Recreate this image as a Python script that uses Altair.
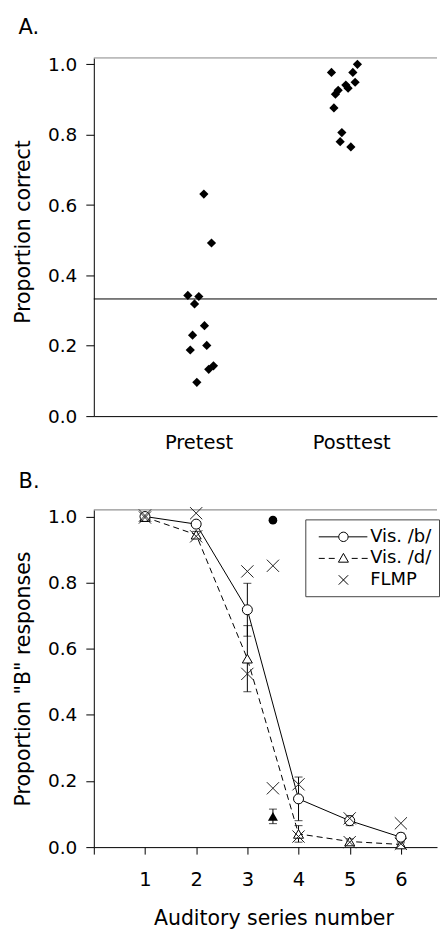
import math
import altair as alt
import pandas as pd

FONT = "DejaVu Sans"

# ---------------- Panel A data ----------------
test_names = ["Pretest", "Posttest"]
pre_values = [0.631, 0.492, 0.343, 0.340, 0.319, 0.257, 0.230, 0.201, 0.188, 0.143, 0.133, 0.096]
pre_jitter = [0.035, 0.085, -0.070, 0.002, -0.026, 0.039, -0.039, 0.054, -0.054, 0.098, 0.067, -0.011]
post_values = [1.000, 0.977, 0.977, 0.949, 0.941, 0.932, 0.926, 0.915, 0.876, 0.806, 0.780, 0.765]
post_jitter = [0.041, -0.129, 0.011, 0.026, -0.035, -0.020, -0.085, -0.103, -0.113, -0.061, -0.072, -0.002]
chance_level = [0.333]
prop_ticks = [0.0, 0.2, 0.4, 0.6, 0.8, 1.0]

# ---------------- Panel B data ----------------
series_numbers = [1, 2, 3, 4, 5, 6]
vis_b = [1.000, 0.977, 0.718, 0.146, 0.080, 0.030]
vis_b_err = [0.0, 0.008, 0.080, 0.066, 0.015, 0.012]
vis_d = [0.998, 0.945, 0.570, 0.040, 0.017, 0.008]
vis_d_err = [0.0, 0.010, 0.100, 0.025, 0.008, 0.005]
flmp_b = [1.003, 1.010, 0.834, 0.190, 0.087, 0.072]
flmp_d = [0.997, 0.940, 0.524, 0.032, 0.015, 0.010]
vis_only_x = [3.5]
vis_only_b = [0.989]
vis_only_b_err = [0.005]
vis_only_d = [0.093]
vis_only_d_err = [0.022]
flmp_vis_only = [0.851, 0.178]
legend_names = ["Vis. /b/", "Vis. /d/", "FLMP"]

# ---------------- scales / axes ----------------
A_W, A_H = 344, 359
B_W, B_H = 344, 338
A_YMAX = 1.018
B_YMAX = 1.02

axis_common = dict(
    domainColor="black", tickColor="black", labelColor="black", titleColor="black",
    labelFont=FONT, titleFont=FONT, grid=False, domainWidth=1, tickWidth=1,
)

yA = alt.Y(
    "value:Q",
    scale=alt.Scale(domain=[0, A_YMAX], nice=False),
    axis=alt.Axis(values=prop_ticks, format=".1f", tickSize=8, labelPadding=9,
                  labelFontSize=18.5, titleFontSize=20.5, titleFontWeight="normal",
                  titlePadding=14, titleY=174, **axis_common),
    title="Proportion correct",
)
xA = alt.X(
    "pos:Q",
    scale=alt.Scale(domain=[0.314, 0.314 + A_W / 153.0], nice=False, zero=False),
    axis=alt.Axis(values=[1, 2], ticks=False, labelPadding=17, labelFontSize=19.5,
                  labelExpr=f"datum.value == 1 ? '{test_names[0]}' : '{test_names[1]}'",
                  **axis_common),
    title=None,
)

dfA = pd.DataFrame({
    "pos": [1 + j for j in pre_jitter] + [2 + j for j in post_jitter],
    "value": pre_values + post_values,
})

a_points = alt.Chart(dfA).mark_point(shape="diamond", filled=True, color="black",
                                     size=85, opacity=1).encode(x=xA, y=yA)
a_chance = alt.Chart(pd.DataFrame({"value": chance_level})).mark_rule(
    color="black", strokeWidth=1).encode(y=yA)
a_top = alt.Chart(pd.DataFrame({"value": [A_YMAX]})).mark_rule(
    color="#888888", strokeWidth=1).encode(y=yA)

chartA = alt.layer(a_top, a_chance, a_points).properties(
    width=A_W, height=A_H,
    title=alt.Title("A.", anchor="start", frame="bounds", fontSize=21,
                    fontWeight="normal", font=FONT, color="black", offset=8, dx=5, dy=-9),
)

# ---------------- Panel B ----------------
yB = alt.Y(
    "value:Q",
    scale=alt.Scale(domain=[0, B_YMAX], nice=False),
    axis=alt.Axis(values=prop_ticks, format=".1f", tickSize=8, labelPadding=9,
                  labelFontSize=18.5, titleFontSize=20.5, titleFontWeight="normal",
                  titlePadding=14, **axis_common),
    title='Proportion "B" responses',
)
xB = alt.X(
    "x:Q",
    scale=alt.Scale(domain=[0, B_W / 51.3], nice=False, zero=False),
    axis=alt.Axis(values=[0] + series_numbers, tickSize=7, labelPadding=16,
                  labelFontSize=19.5, titleFontSize=20.5, titleFontWeight="normal",
                  titlePadding=20, titleX=180, labelExpr="datum.value == 0 ? '' : datum.label",
                  **axis_common),
    title="Auditory series number",
)

df_line_b = pd.DataFrame({"x": series_numbers, "value": vis_b})
df_line_d = pd.DataFrame({"x": series_numbers, "value": vis_d})

err_rows = []
for x, v, e in zip(series_numbers, vis_b, vis_b_err):
    if e > 0:
        err_rows.append({"x": x, "lo": v - e, "hi": v + e})
for x, v, e in zip(series_numbers, vis_d, vis_d_err):
    if e > 0:
        err_rows.append({"x": x, "lo": v - e, "hi": v + e})
for x, v, e in zip(vis_only_x, vis_only_b, vis_only_b_err):
    err_rows.append({"x": x, "lo": v - e, "hi": v + e})
for x, v, e in zip(vis_only_x, vis_only_d, vis_only_d_err):
    err_rows.append({"x": x, "lo": v - e, "hi": v + e})
df_err = pd.DataFrame(err_rows)

df_flmp = pd.DataFrame({
    "x": series_numbers + series_numbers + vis_only_x * len(flmp_vis_only),
    "value": flmp_b + flmp_d + flmp_vis_only,
})

X_PATH = "M-1,-1L1,1M-1,1L1,-1"
yB_err_scale = alt.Scale(domain=[0, B_YMAX], nice=False)

b_top = alt.Chart(pd.DataFrame({"value": [B_YMAX]})).mark_rule(
    color="#777777", strokeWidth=1).encode(y=yB)
b_line = alt.Chart(df_line_b).mark_line(color="black", strokeWidth=1).encode(x=xB, y=yB)
d_line = alt.Chart(df_line_d).mark_line(color="black", strokeWidth=1,
                                        strokeDash=[6, 4]).encode(x=xB, y=yB)
err_rule = alt.Chart(df_err).mark_rule(color="black", strokeWidth=1).encode(
    x=xB, y=alt.Y("lo:Q", scale=yB_err_scale, title='Proportion "B" responses'),
    y2="hi:Q")
err_lo = alt.Chart(df_err).mark_tick(orient="horizontal", size=8, thickness=1,
                                     color="black").encode(
    x=xB, y=alt.Y("lo:Q", scale=yB_err_scale, title='Proportion "B" responses'))
err_hi = alt.Chart(df_err).mark_tick(orient="horizontal", size=8, thickness=1,
                                     color="black").encode(
    x=xB, y=alt.Y("hi:Q", scale=yB_err_scale, title='Proportion "B" responses'))

d_tri = alt.Chart(df_line_d).mark_point(shape="triangle-up", filled=True, fill="white",
                                        stroke="black", strokeWidth=1, size=100,
                                        opacity=1).encode(x=xB, y=yB)
b_circ = alt.Chart(df_line_b).mark_point(shape="circle", filled=True, fill="white",
                                         stroke="black", strokeWidth=1, size=100,
                                         opacity=1).encode(x=xB, y=yB)
vo_b = alt.Chart(pd.DataFrame({"x": vis_only_x, "value": vis_only_b})).mark_point(
    shape="circle", filled=True, color="black", size=75, opacity=1).encode(x=xB, y=yB)
vo_d = alt.Chart(pd.DataFrame({"x": vis_only_x, "value": vis_only_d})).mark_point(
    shape="triangle-up", filled=True, color="black", size=100, opacity=1).encode(x=xB, y=yB)
flmp_pts = alt.Chart(df_flmp).mark_point(shape=X_PATH, filled=False, stroke="#222222",
                                         strokeWidth=1, size=150, opacity=1).encode(x=xB, y=yB)


# legend symbols (line + marker), drawn in legend units (10 px per unit)
def poly_circle(cx, r, n=20):
    pts = [(cx + r * math.cos(2 * math.pi * k / n), r * math.sin(2 * math.pi * k / n))
           for k in range(n)]
    return "M" + "L".join(f"{px:.3f},{py:.3f}" for px, py in pts) + "Z"


leg_b = "M-0.4,0H1.6M2.54,0H4.47" + poly_circle(2.07, 0.47)
leg_d = "M-0.4,0H0.2M0.6,0H1.2M2.9,0H3.5M3.9,0H4.5M2.07,-0.5L2.57,0.38L1.57,0.38Z"
leg_x = "M1.6,-0.47L2.54,0.47M1.6,0.47L2.54,-0.47"

legend_layer = alt.Chart(pd.DataFrame({"x": [1], "value": [0.5], "series": [legend_names[0]]})).transform_filter(
    "datum.x > 100"
).mark_point(color="black").encode(
    x=xB, y=yB,
    shape=alt.Shape("series:N", title=None,
                    scale=alt.Scale(domain=legend_names, range=[leg_b, leg_d, leg_x]),
                    legend=alt.Legend(orient="none", legendX=212, legendY=9.5, padding=7,
                                      strokeColor="#444444", fillColor="white",
                                      symbolSize=400, symbolStrokeWidth=1,
                                      symbolStrokeColor="black", symbolFillColor="white",
                                      symbolOpacity=1, labelFontSize=18, labelFont=FONT,
                                      labelColor="black", labelOffset=37, rowPadding=1.6,
                                      labelLimit=200)),
)

chartB = alt.layer(b_top, b_line, d_line, err_rule, err_lo, err_hi, d_tri, b_circ,
                   vo_b, vo_d, flmp_pts, legend_layer).properties(
    width=B_W, height=B_H,
    title=alt.Title("B.", anchor="start", frame="bounds", fontSize=21,
                    fontWeight="normal", font=FONT, color="black", offset=13.5, dx=5),
)

chart = alt.vconcat(chartA, chartB, spacing=18).resolve_legend(
    shape="independent"
).configure(
    padding={"left": 5, "top": 8, "right": 0, "bottom": 0},
).configure_view(stroke=None)

chart.save("out.html", embed_options={"renderer": "svg", "actions": False})
